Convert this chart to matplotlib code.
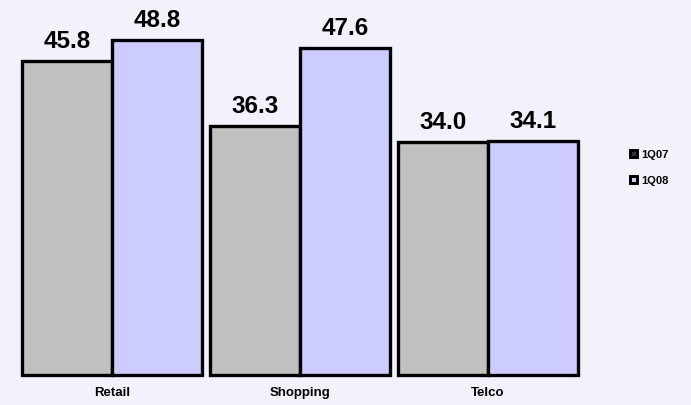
import matplotlib
matplotlib.use("Agg")
import matplotlib.pyplot as plt
from matplotlib.patches import Rectangle
import numpy as np

categories = ["Retail", "Shopping", "Telco"]
series_names = ["1Q07", "1Q08"]
q107 = [45.8, 36.3, 34.0]
q108 = [48.8, 47.6, 34.1]

bg = "#f2f2fc"
colors = ["#c0c0c0", "#ccccff"]

plt.rcParams["font.family"] = ["Liberation Sans", "DejaVu Sans"]

fig = plt.figure(figsize=[6.91, 4.06], dpi=100, facecolor=bg)
ax = fig.add_axes([0, 30 / 406, 1, 376 / 406])
ax.set_facecolor(bg)

x = np.arange(len(categories))
w = 0.479
for i, vals in enumerate([q107, q108]):
    pos = x + (i - 0.5) * w
    ax.bar(pos, vals, width=w, color=colors[i], edgecolor="black",
           linewidth=2.4, label=series_names[i], clip_on=False)
    for px, v in zip(pos, vals):
        ax.text(px, v + 2.05, f"{v:.1f}", ha="center", va="baseline",
                fontsize=17.5, fontweight="bold")

ax.set_xlim(-0.596, 3.08)
ax.set_ylim(0, 54.8)
ax.set_xticks(x)
ax.set_xticklabels(categories, fontsize=9.5, fontweight="bold")
ax.tick_params(axis="x", length=0, pad=8)
ax.set_yticks([])
for s in ax.spines.values():
    s.set_visible(False)

# small square legend on the right
W, H = 691, 406
for j, name in enumerate(series_names):
    yy = 155 + 26 * j
    fig.patches.append(Rectangle(((629) / W, 1 - (yy + 5) / H), 10 / W, 10 / H,
                                 transform=fig.transFigure, facecolor="black",
                                 edgecolor="none"))
    inner = "#303030" if j == 0 else colors[1]
    fig.patches.append(Rectangle(((632) / W, 1 - (yy + 2) / H), 4 / W, 4 / H,
                                 transform=fig.transFigure, facecolor=inner,
                                 edgecolor="none"))
    fig.text(641 / W, 1 - yy / H, name, fontsize=8, fontweight="bold",
             ha="left", va="center")

fig.savefig("out.png", dpi=100, facecolor=bg)
